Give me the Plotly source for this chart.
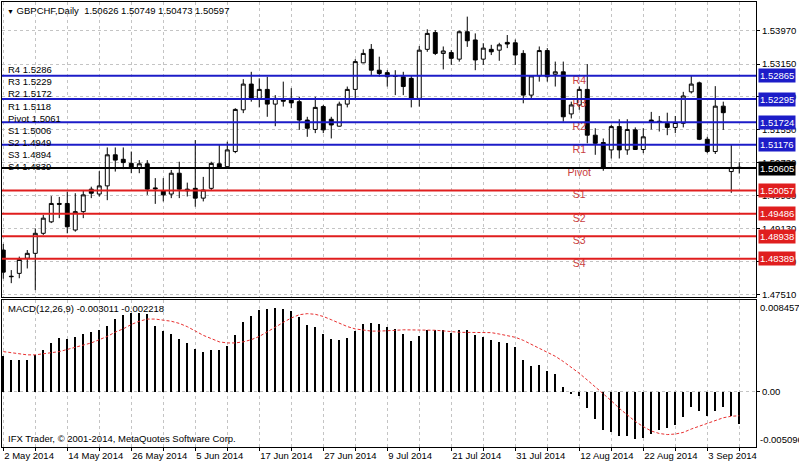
import plotly.graph_objects as go

# ---------------- data ----------------
tick_labels = ["2 May 2014", "14 May 2014", "26 May 2014", "5 Jun 2014", "17 Jun 2014",
               "27 Jun 2014", "9 Jul 2014", "21 Jul 2014", "31 Jul 2014", "12 Aug 2014",
               "22 Aug 2014", "3 Sep 2014"]
tick_bars = [0, 8, 16, 24, 32, 40, 48, 56, 64, 72, 80, 88]

opens = [1.4860, 1.4796, 1.4803, 1.4840, 1.4852, 1.4901, 1.4929, 1.4974, 1.4974, 1.4909,
         1.4954, 1.5009, 1.4997, 1.5017, 1.5093, 1.5082, 1.5072, 1.5060, 1.5071, 1.5012,
         1.5005, 1.4997, 1.5048, 1.5009, 1.5011, 1.4987, 1.5011, 1.5071, 1.5064, 1.5101,
         1.5203, 1.5266, 1.5231, 1.5253, 1.5217, 1.5229, 1.5231, 1.5223, 1.5178, 1.5155,
         1.5211, 1.5180, 1.5163, 1.5217, 1.5253, 1.5318, 1.5351, 1.5300, 1.5294, 1.5287,
         1.5284, 1.5280, 1.5231, 1.5351, 1.5392, 1.5341, 1.5343, 1.5327, 1.5394, 1.5374,
         1.5327, 1.5351, 1.5349, 1.5368, 1.5367, 1.5341, 1.5239, 1.5286, 1.5348, 1.5290,
         1.5296, 1.5193, 1.5215, 1.5253, 1.5141, 1.5123, 1.5105, 1.5162, 1.5105, 1.5154,
         1.5106, 1.5178, 1.5175, 1.5170, 1.5160, 1.5170, 1.5247, 1.5269, 1.5131, 1.5101,
         1.5212, 1.5052, 1.50626]
highs = [1.4875, 1.4811, 1.4844, 1.4860, 1.4913, 1.4946, 1.4992, 1.4990, 1.5003, 1.4999,
         1.5007, 1.5015, 1.5053, 1.5111, 1.5111, 1.5111, 1.5101, 1.5080, 1.5080, 1.5036,
         1.5036, 1.5056, 1.5076, 1.5025, 1.5129, 1.5039, 1.5076, 1.5117, 1.5125, 1.5207,
         1.5278, 1.5296, 1.5280, 1.5284, 1.5239, 1.5272, 1.5256, 1.5235, 1.5186, 1.5235,
         1.5215, 1.5186, 1.5223, 1.5260, 1.5327, 1.5351, 1.5364, 1.5333, 1.5300, 1.5300,
         1.5296, 1.5288, 1.5359, 1.5400, 1.5398, 1.5358, 1.5349, 1.5397, 1.5431, 1.5390,
         1.5366, 1.5362, 1.5367, 1.5386, 1.5375, 1.5349, 1.5288, 1.5358, 1.5354, 1.5321,
         1.5321, 1.5223, 1.5260, 1.5315, 1.5158, 1.5133, 1.5166, 1.5180, 1.5180, 1.5160,
         1.5158, 1.5198, 1.5188, 1.5196, 1.5188, 1.5247, 1.5288, 1.5272, 1.5137, 1.5261,
         1.5223, 1.5117, 1.50749]
lows = [1.4790, 1.4779, 1.4791, 1.4815, 1.4762, 1.4897, 1.4926, 1.4938, 1.4901, 1.4905,
        1.4938, 1.4987, 1.4991, 1.4982, 1.5052, 1.5058, 1.5048, 1.5048, 1.4995, 1.4973,
        1.4979, 1.4987, 1.4987, 1.4991, 1.4966, 1.4979, 1.5007, 1.5060, 1.5060, 1.5097,
        1.5195, 1.5223, 1.5209, 1.5186, 1.5163, 1.5211, 1.5207, 1.5154, 1.5137, 1.5146,
        1.5146, 1.5133, 1.5162, 1.5209, 1.5229, 1.5317, 1.5288, 1.5284, 1.5260, 1.5239,
        1.5239, 1.5209, 1.5211, 1.5345, 1.5337, 1.5302, 1.5313, 1.5321, 1.5357, 1.5300,
        1.5313, 1.5337, 1.5323, 1.5354, 1.5313, 1.5219, 1.5231, 1.5272, 1.5272, 1.5260,
        1.5174, 1.5182, 1.5203, 1.5121, 1.5093, 1.5054, 1.5084, 1.5084, 1.5093, 1.5105,
        1.5097, 1.5155, 1.5150, 1.5141, 1.5146, 1.5160, 1.5243, 1.5129, 1.5097, 1.5095,
        1.5154, 1.5000, 1.50473]
closes = [1.4806, 1.4795, 1.4837, 1.4852, 1.4901, 1.4938, 1.4974, 1.4972, 1.4917, 1.4954,
          1.4995, 1.4999, 1.5017, 1.5093, 1.5080, 1.5074, 1.5060, 1.5071, 1.5009, 1.5010,
          1.4995, 1.5048, 1.5009, 1.5005, 1.4987, 1.5007, 1.5072, 1.5063, 1.5105, 1.5204,
          1.5266, 1.5231, 1.5253, 1.5217, 1.5231, 1.5224, 1.5220, 1.5178, 1.5158, 1.5209,
          1.5154, 1.5166, 1.5217, 1.5253, 1.5321, 1.5341, 1.5300, 1.5292, 1.5284, 1.5285,
          1.5260, 1.5231, 1.5349, 1.5390, 1.5341, 1.5347, 1.5329, 1.5394, 1.5372, 1.5325,
          1.5354, 1.5345, 1.5362, 1.5364, 1.5337, 1.5239, 1.5286, 1.5348, 1.5284, 1.5296,
          1.5186, 1.5215, 1.5253, 1.5141, 1.5121, 1.5062, 1.5162, 1.5105, 1.5155, 1.5106,
          1.5137, 1.5172, 1.5173, 1.5160, 1.5172, 1.5237, 1.5266, 1.5131, 1.5101, 1.5212,
          1.5196, 1.5062, 1.50597]

level_names = ["R4", "R3", "R2", "R1", "Pivot", "S1", "S2", "S3", "S4"]
level_values = [1.52865, 1.52295, 1.51724, 1.51176, 1.50605, 1.50057, 1.49486, 1.48938, 1.48389]
level_short = ["1.5286", "1.5229", "1.5172", "1.5118", "1.5061", "1.5006", "1.4949", "1.4894", "1.4839"]

price_ticks = [1.53970, 1.53150, 1.52350, 1.51550, 1.50730, 1.49930, 1.49130, 1.48320, 1.47510]

macd_hist = [0.00325, 0.00294, 0.00294, 0.00294, 0.00334, 0.00387, 0.00449, 0.00495, 0.00489, 0.00504,
             0.00535, 0.00547, 0.00572, 0.00609, 0.00671, 0.00711, 0.00727, 0.00727, 0.00721, 0.00609,
             0.00557, 0.00535, 0.00489, 0.00449, 0.00393, 0.00365, 0.00387, 0.00387, 0.00424, 0.00526,
             0.00643, 0.00702, 0.00752, 0.00767, 0.00773, 0.00764, 0.00742, 0.00686, 0.00618, 0.00598,
             0.00530, 0.00482, 0.00478, 0.00498, 0.00563, 0.00622, 0.00630, 0.00621, 0.00601, 0.00580,
             0.00535, 0.00472, 0.00511, 0.00568, 0.00568, 0.00565, 0.00542, 0.00570, 0.00568, 0.00522,
             0.00503, 0.00475, 0.00461, 0.00446, 0.00408, 0.00296, 0.00241, 0.00245, 0.00195, 0.00162,
             0.00047, -0.00020, -0.00043, -0.00150, -0.00248, -0.00350, -0.00370, -0.00410, -0.00410, -0.00435,
             -0.00425, -0.00390, -0.00355, -0.00335, -0.00305, -0.00230, -0.00145, -0.00180, -0.00228, -0.00178,
             -0.00145, -0.00220, -0.003011]
macd_signal = [0.00370, 0.00360, 0.00350, 0.00340, 0.00340, 0.00350, 0.00360, 0.00370, 0.00390, 0.00410,
               0.00430, 0.00450, 0.00480, 0.00510, 0.00550, 0.00580, 0.00620, 0.00650, 0.00670, 0.00670,
               0.00660, 0.00650, 0.00630, 0.00600, 0.00560, 0.00520, 0.00490, 0.00460, 0.00450, 0.00450,
               0.00460, 0.00480, 0.00510, 0.00550, 0.00595, 0.00640, 0.00680, 0.00710, 0.00720, 0.00714,
               0.00694, 0.00664, 0.00631, 0.00601, 0.00579, 0.00566, 0.00559, 0.00559, 0.00560, 0.00566,
               0.00571, 0.00571, 0.00572, 0.00573, 0.00567, 0.00561, 0.00552, 0.00548, 0.00547, 0.00546,
               0.00549, 0.00545, 0.00532, 0.00520, 0.00502, 0.00474, 0.00438, 0.00402, 0.00365, 0.00327,
               0.00279, 0.00225, 0.00170, 0.00108, 0.00047, -0.00020, -0.00083, -0.00153, -0.00218, -0.00274,
               -0.00322, -0.00362, -0.00385, -0.00395, -0.00390, -0.00375, -0.00344, -0.00319, -0.00296, -0.00268,
               -0.00240, -0.00226, -0.002218]
macd_max = 0.008457
macd_min = -0.005096

# ---------------- style ----------------
FONT = "Liberation Sans, Arial, sans-serif"
FS = 9.5
GRID = "#c4c4c4"
BLUE = "#1c1cc8"
RED = "#e01e1e"
LABEL_RED = "#c84040"
level_colors = [BLUE] * 4 + ["#000000"] + [RED] * 4

n = len(closes)
xs = list(range(n))
x_range = [-0.16, 94.09]

fig = go.Figure()

fig.add_trace(go.Candlestick(
    x=xs, open=opens, high=highs, low=lows, close=closes,
    increasing=dict(line=dict(color="#000000", width=1), fillcolor="#ffffff"),
    decreasing=dict(line=dict(color="#000000", width=1), fillcolor="#000000"),
    whiskerwidth=0, xaxis="x", yaxis="y", hoverinfo="skip", showlegend=False,
))

# level names inside the chart
fig.add_trace(go.Scatter(
    x=[72] * len(level_values), y=level_values, text=level_names, mode="text",
    textposition="bottom center", textfont=dict(family=FONT, size=10.5, color=LABEL_RED),
    xaxis="x", yaxis="y", hoverinfo="skip", showlegend=False,
))

fig.add_trace(go.Bar(
    x=xs, y=macd_hist, width=0.12, marker=dict(color="#000000", line=dict(width=0)),
    xaxis="x2", yaxis="y2", hoverinfo="skip", showlegend=False,
))
fig.add_trace(go.Scatter(
    x=xs, y=macd_signal, mode="lines", line=dict(color="#e83030", width=1, dash="3px,2px"),
    xaxis="x2", yaxis="y2", hoverinfo="skip", showlegend=False,
))

shapes = []
for v, c in zip(level_values, level_colors):
    shapes.append(dict(type="line", xref="x domain", x0=0, x1=1, yref="y", y0=v, y1=v,
                       line=dict(color=c, width=2), layer="above"))

annotations = []
# right-hand level price boxes
for v, c in zip(level_values, level_colors):
    annotations.append(dict(xref="paper", x=1, xanchor="left", xshift=2, yref="y", y=v,
                            yanchor="middle", text=f"{v:.5f}", showarrow=False,
                            bgcolor=c, borderpad=1,
                            font=dict(family=FONT, size=FS, color="#ffffff")))
# left list of levels
for k, (nm, s) in enumerate(zip(level_names, level_short)):
    annotations.append(dict(xref="paper", x=0, xanchor="left", xshift=4, yref="paper", y=1,
                            yanchor="middle", yshift=-(69.7 + 12.1 * k - 2), showarrow=False,
                            text=f"{nm} {s}", font=dict(family=FONT, size=FS, color="#000000")))
# title
annotations.append(dict(xref="paper", x=0, xanchor="left", xshift=3, yref="paper", y=1,
                        yanchor="middle", yshift=-8, showarrow=False,
                        text="<span style='font-size:7px'>▼</span> GBPCHF,Daily  1.50626 1.50749 1.50473 1.50597",
                        font=dict(family=FONT, size=FS, color="#000000")))
# macd caption
annotations.append(dict(xref="paper", x=0, xanchor="left", xshift=4, yref="y2 domain", y=1,
                        yanchor="middle", yshift=-8, showarrow=False,
                        text="MACD(12,26,9) -0.003011 -0.002218",
                        font=dict(family=FONT, size=FS, color="#000000")))
annotations.append(dict(xref="paper", x=0, xanchor="left", xshift=4, yref="y2 domain", y=0,
                        yanchor="middle", yshift=9, showarrow=False,
                        text="IFX Trader, © 2001-2014, MetaQuotes Software Corp.",
                        font=dict(family=FONT, size=FS, color="#000000")))
# macd max / min labels
annotations.append(dict(xref="paper", x=1, xanchor="left", xshift=2, yref="y2", y=macd_max,
                        yanchor="top", showarrow=False, text=f"{macd_max:.6f}",
                        font=dict(family=FONT, size=FS, color="#000000")))
annotations.append(dict(xref="paper", x=1, xanchor="left", xshift=2, yref="y2", y=macd_min,
                        yanchor="bottom", showarrow=False, text=f"{macd_min:.6f}",
                        font=dict(family=FONT, size=FS, color="#000000")))

grid_vals = list(range(0, 93, 4))
grid_text = [tick_labels[tick_bars.index(g)] if g in tick_bars else "" for g in grid_vals]

common_x = dict(range=x_range, showgrid=True, gridcolor=GRID, griddash="3px,3px", gridwidth=1,
                zeroline=False, showline=True, linecolor="#000000", linewidth=1, mirror=True,
                tickmode="array", tickvals=grid_vals, fixedrange=True)

fig.update_layout(
    width=799, height=464,
    margin=dict(l=2, r=43, t=2, b=17),
    paper_bgcolor="#ffffff", plot_bgcolor="#ffffff",
    font=dict(family=FONT, size=FS, color="#000000"),
    showlegend=False, bargap=0,
    xaxis=dict(**common_x, anchor="y", domain=[0, 1], showticklabels=False, ticks="",
               rangeslider=dict(visible=False)),
    xaxis2=dict(**common_x, anchor="y2", domain=[0, 1], matches="x", ticktext=grid_text,
                ticks="outside", ticklen=3, tickcolor="#000000",
                ticklabelposition="outside right",
                tickfont=dict(family=FONT, size=FS, color="#000000")),
    yaxis=dict(domain=[0.3371, 1], range=[1.47452, 1.54668], side="right", anchor="x",
               tickmode="array", tickvals=price_ticks, ticktext=[f"{t:.5f}" for t in price_ticks],
               showgrid=True, gridcolor=GRID, griddash="3px,3px", zeroline=False,
               showline=True, linecolor="#000000", linewidth=1, mirror=True,
               ticks="outside", ticklen=3, tickcolor="#000000",
               tickfont=dict(family=FONT, size=FS, color="#000000"), fixedrange=True),
    yaxis2=dict(domain=[0, 0.3303], range=[macd_min, macd_max], side="right", anchor="x2",
                tickmode="array", tickvals=[0], ticktext=["0.00"],
                showgrid=True, gridcolor=GRID, griddash="3px,3px", zeroline=False,
                showline=True, linecolor="#000000", linewidth=1, mirror=True,
                ticks="outside", ticklen=3, tickcolor="#000000",
                tickfont=dict(family=FONT, size=FS, color="#000000"), fixedrange=True),
    shapes=shapes,
    annotations=annotations,
)

fig.write_html("out.html", config={"displayModeBar": False},
               post_script="document.body.style.margin='0';document.body.style.overflow='hidden';")
